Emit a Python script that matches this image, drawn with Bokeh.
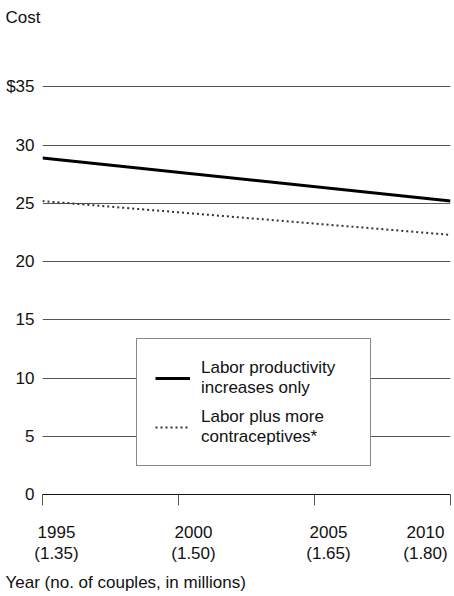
from bokeh.plotting import figure
from bokeh.models import (FixedTicker, Legend, LegendItem, Range1d, LinearAxis,
                          CustomJSTickFormatter, Title)
from bokeh.embed import file_html
from bokeh.resources import INLINE

# ---- data ----
years = [1995, 2010]
labor_only = [28.9, 25.2]
labor_plus = [25.2, 22.3]
x_ticks = [1995, 2000, 2005, 2010]
x_tick_labels = ["1995\n(1.35)", "2000\n(1.50)", "2005\n(1.65)", "2010\n(1.80)"]
y_ticks = [0, 5, 10, 15, 20, 25, 30, 35]
y_tick_labels = ["0", "5", "10", "15", "20", "25", "30", "$35"]
series_names = ["Labor productivity\nincreases only", "Labor plus more\ncontraceptives*"]
y_title = "Cost"
x_title = "Year (no. of couples, in millions)"

FONT = "Liberation Sans"
FS = "17px"
INK = "#111111"

# ---- layout (pixels) ----
W, H = 454, 596
frame_left, frame_right = 42, 450
frame_top, frame_bottom = 31, 494.5
y35_px = 86.5
px_per_unit = (frame_bottom - y35_px) / 35.0
y_end = 35 + (y35_px - frame_top) / px_per_unit
px_per_year = (frame_right - frame_left) / 15.0
label_shift_px = [14, 15, 14, -25]   # horizontal placement of the tick texts

p = figure(width=W, height=H, output_backend="svg", toolbar_location=None,
           x_range=Range1d(1995, 2010), y_range=Range1d(0, y_end),
           min_border_left=frame_left, min_border_right=W - frame_right,
           min_border_top=frame_top, min_border_bottom=int(round(H - frame_bottom)),
           title=y_title)
p.title.align = "left"
p.title.offset = -37
p.title.text_font = FONT
p.title.text_font_size = FS
p.title.text_font_style = "normal"
p.title.text_color = INK
p.outline_line_color = None
p.background_fill_color = "white"
p.border_fill_color = "white"

# y axis
p.yaxis.ticker = FixedTicker(ticks=y_ticks)
p.yaxis.major_label_overrides = {t: s for t, s in zip(y_ticks, y_tick_labels)}
p.yaxis.axis_line_color = None
p.yaxis.major_tick_line_color = None
p.yaxis.minor_tick_line_color = None
p.yaxis.major_tick_in = 0
p.yaxis.major_tick_out = 0
p.yaxis.minor_tick_in = 0
p.yaxis.minor_tick_out = 0
p.yaxis.major_label_standoff = 8
p.yaxis.major_label_text_font = FONT
p.yaxis.major_label_text_font_size = FS
p.yaxis.major_label_text_color = INK

# x axis: line and tick marks (its own labels are not drawn)
xa = p.xaxis[0]
xa.ticker = FixedTicker(ticks=x_ticks)
xa.major_label_overrides = {t: "" for t in x_ticks}
xa.major_label_text_color = None
xa.major_label_standoff = 0
xa.axis_line_color = INK
xa.axis_line_width = 1
xa.major_tick_line_color = "#555555"
xa.major_tick_in = 0
xa.major_tick_out = 11
xa.minor_tick_line_color = None
xa.minor_tick_in = 0
xa.minor_tick_out = 0

# x axis: tick texts
label_pos = [t + s / px_per_year for t, s in zip(x_ticks, label_shift_px)]
xl = LinearAxis(ticker=FixedTicker(ticks=label_pos),
                formatter=CustomJSTickFormatter(args=dict(labels=x_tick_labels),
                                                code="return labels[index]"),
                axis_line_color=None, major_tick_line_color=None,
                minor_tick_line_color=None, major_tick_in=0, major_tick_out=0,
                minor_tick_in=0, minor_tick_out=0,
                major_label_standoff=17, major_label_text_font=FONT,
                major_label_text_font_size=FS, major_label_text_color=INK,
                major_label_text_line_height=1.15)
p.add_layout(xl, "below")

p.add_layout(Title(text=x_title, align="left", offset=-37, standoff=8,
                   text_font=FONT, text_font_size=FS, text_font_style="normal",
                   text_color=INK),
             "below")

# grid
p.xgrid.visible = False
p.ygrid.ticker = FixedTicker(ticks=y_ticks[1:])
p.ygrid.grid_line_color = "#555555"
p.ygrid.grid_line_width = 1

r1 = p.line(years, labor_only, line_color="black", line_width=3)
r2 = p.line(years, labor_plus, line_color="#333333", line_width=2, line_dash="2 3")

legend = Legend(items=[LegendItem(label=series_names[0], renderers=[r1]),
                       LegendItem(label=series_names[1], renderers=[r2])],
                location=(94, 28), margin=0, padding=18, spacing=8,
                glyph_width=35, glyph_height=20, label_standoff=11,
                label_width=151, label_height=41,
                label_text_font=FONT, label_text_font_size=FS,
                label_text_color=INK,
                border_line_color=INK, border_line_width=1,
                background_fill_color="white", background_fill_alpha=1.0)
p.add_layout(legend, "center")

open("out.html", "w").write(file_html(p, INLINE))
